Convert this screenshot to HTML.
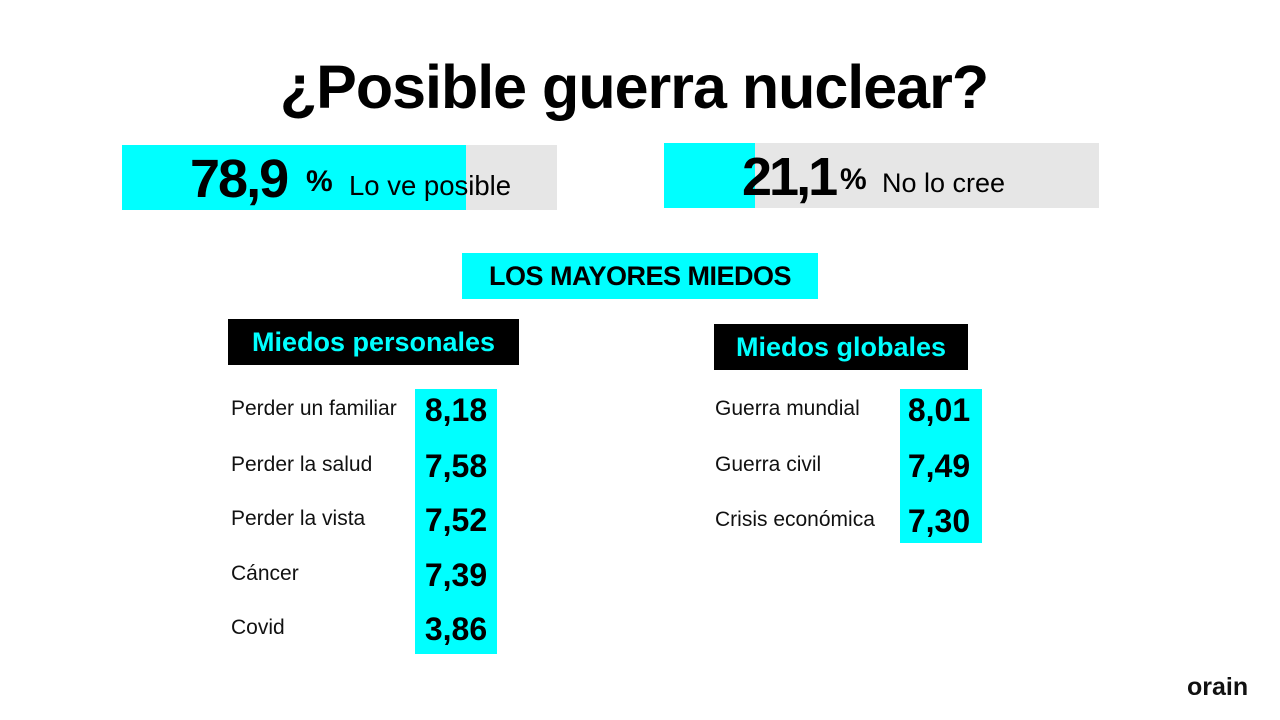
<!DOCTYPE html>
<html style="width:1280px;height:720px;overflow:hidden"><head><meta charset="utf-8"><style>
html,body{margin:0;width:1280px;height:720px;overflow:hidden}
body{background:#fff;font-family:"Liberation Sans",sans-serif;position:relative}
.a{position:absolute;white-space:nowrap}
.lbl{font-size:21px;color:#111;line-height:24px}
.num{font-size:32px;font-weight:bold;color:#000;line-height:37px}
</style></head><body>

<div class="a" style="left:0;width:1268px;top:52px;text-align:center;font-size:61px;font-weight:bold;color:#000;letter-spacing:-1px">¿Posible guerra nuclear?</div>

<div class="a" style="left:122px;top:145px;width:435px;height:65px;background:#e6e6e6"></div>
<div class="a" style="left:122px;top:145px;width:344px;height:65px;background:#00ffff"></div>
<div class="a" style="left:190px;top:148px;font-size:54px;font-weight:bold;letter-spacing:-2px">78,9</div>
<div class="a" style="left:306px;top:165px;font-size:30px;font-weight:bold">%</div>
<div class="a" style="left:349px;top:170px;font-size:27.5px">Lo ve posible</div>

<div class="a" style="left:664px;top:143px;width:435px;height:65px;background:#e6e6e6"></div>
<div class="a" style="left:664px;top:143px;width:91px;height:65px;background:#00ffff"></div>
<div class="a" style="left:742px;top:146px;font-size:54px;font-weight:bold;letter-spacing:-3px">21,1</div>
<div class="a" style="left:840px;top:163px;font-size:30px;font-weight:bold">%</div>
<div class="a" style="left:882px;top:168px;font-size:27px">No lo cree</div>

<div class="a" style="left:462px;top:253px;width:356px;height:46px;background:#00ffff;text-align:center;line-height:46px;font-size:27px;font-weight:bold;letter-spacing:-0.5px">LOS MAYORES MIEDOS</div>
<div class="a" style="left:228px;top:319px;width:291px;height:46px;background:#000;color:#00ffff;text-align:center;line-height:46px;font-size:27px;font-weight:bold">Miedos personales</div>
<div class="a" style="left:714px;top:324px;width:254px;height:46px;background:#000;color:#00ffff;text-align:center;line-height:46px;font-size:27px;font-weight:bold">Miedos globales</div>

<div class="a" style="left:415px;top:389px;width:82px;height:265px;background:#00ffff"></div>
<div class="a" style="left:900px;top:389px;width:82px;height:154px;background:#00ffff"></div>

<div class="a lbl" style="left:231px;top:397px">Perder un familiar</div>
<div class="a lbl" style="left:231px;top:453px">Perder la salud</div>
<div class="a lbl" style="left:231px;top:507px">Perder la vista</div>
<div class="a lbl" style="left:231px;top:562px">Cáncer</div>
<div class="a lbl" style="left:231px;top:616px">Covid</div>
<div class="a num" style="left:415px;width:82px;text-align:center;top:392px">8,18</div>
<div class="a num" style="left:415px;width:82px;text-align:center;top:448px">7,58</div>
<div class="a num" style="left:415px;width:82px;text-align:center;top:502px">7,52</div>
<div class="a num" style="left:415px;width:82px;text-align:center;top:557px">7,39</div>
<div class="a num" style="left:415px;width:82px;text-align:center;top:611px">3,86</div>

<div class="a lbl" style="left:715px;top:397px">Guerra mundial</div>
<div class="a lbl" style="left:715px;top:453px">Guerra civil</div>
<div class="a lbl" style="left:715px;top:508px">Crisis económica</div>
<div class="a num" style="left:898px;width:82px;text-align:center;top:392px">8,01</div>
<div class="a num" style="left:898px;width:82px;text-align:center;top:448px">7,49</div>
<div class="a num" style="left:898px;width:82px;text-align:center;top:503px">7,30</div>

<div class="a" style="left:1187px;top:673px;font-size:25px;line-height:28px;font-weight:bold;color:#111">orain</div>
</body></html>
